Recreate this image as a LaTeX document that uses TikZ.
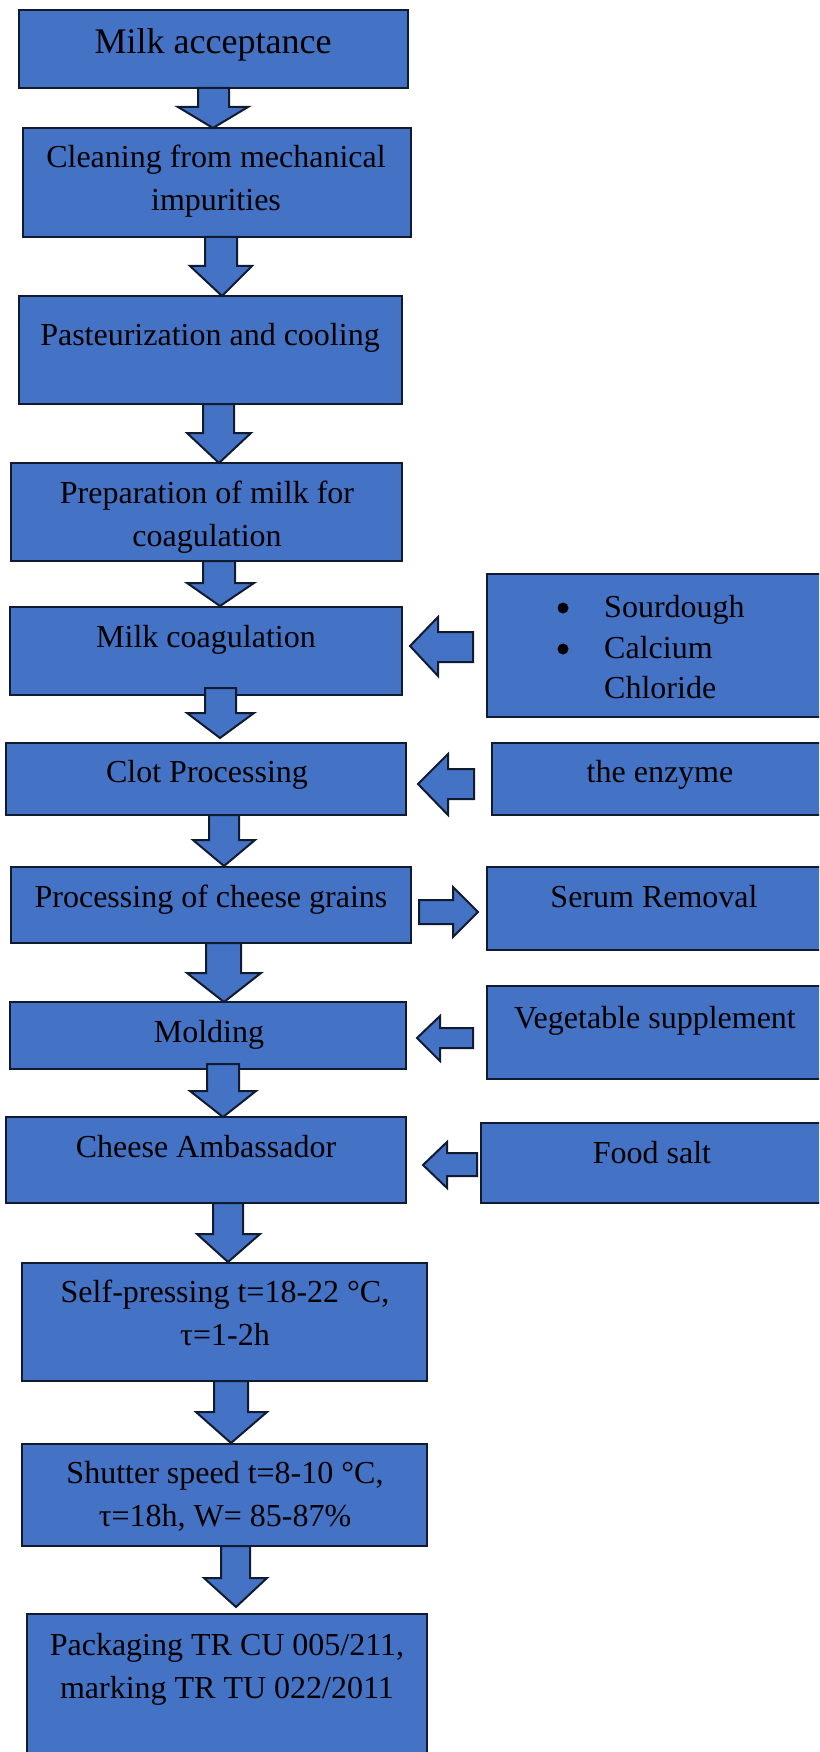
\documentclass[tikz,border=0pt]{standalone}
\usepackage{fontspec}
\setmainfont{Liberation Serif}
\definecolor{boxblue}{HTML}{4472C4}
\definecolor{edge}{HTML}{111B30}
\tikzset{
  boxshape/.style={draw=edge, fill=boxblue, line width=2pt},
  barrow/.style={draw=edge, fill=boxblue, line width=2pt, line join=miter},
  lbl/.style={inner sep=0pt, anchor=base, font=\fontsize{32}{43}\selectfont},
  mlbl/.style={lbl, text width=420pt, align=flush center},
  bulletdot/.style={circle, fill=black, inner sep=0pt, minimum size=11pt},
}
% down block arrow: xc, shaftL, shaftR, ytop, yheadtop, headL, headR, ytip
\newcommand{\dnarrow}[8]{%
  \draw[barrow] (#2,#4) -- (#3,#4) -- (#3,#5) -- (#7,#5) -- (#1,#8) -- (#6,#5) -- (#2,#5) -- cycle;}
% horizontal block arrow: xtail, yshaftTop, yshaftBot, xheadbase, yheadTop, yheadBot, xtip, ytip
\newcommand{\harrow}[8]{%
  \draw[barrow] (#1,#2) -- (#4,#2) -- (#4,#5) -- (#7,#8) -- (#4,#6) -- (#4,#3) -- (#1,#3) -- cycle;}
\begin{document}
\begin{tikzpicture}[x=1pt, y=-1pt]
\useasboundingbox (0,0) rectangle (819,1752);
\clip (0,0) rectangle (819,1752);

% main boxes
\draw[boxshape] (19,10) rectangle (408,88) coordinate (b1);
\draw[boxshape] (23,128) rectangle (411,237) coordinate (b2);
\draw[boxshape] (19,296) rectangle (402,404) coordinate (b3);
\draw[boxshape] (11,463) rectangle (402,561) coordinate (b4);
\draw[boxshape] (10,607) rectangle (402,695) coordinate (b5);
\draw[boxshape] (6,743) rectangle (406,815) coordinate (b6);
\draw[boxshape] (11,867) rectangle (411,943) coordinate (b7);
\draw[boxshape] (10,1002) rectangle (406,1069) coordinate (b8);
\draw[boxshape] (6,1117) rectangle (406,1203) coordinate (b9);
\draw[boxshape] (22,1263) rectangle (427,1381) coordinate (b10);
\draw[boxshape] (22,1444) rectangle (427,1546) coordinate (b11);
\draw[boxshape] (27,1614) rectangle (427,1765) coordinate (b12);

% side boxes
\draw[boxshape] (487,574) rectangle (835,717) coordinate (sA);
\draw[boxshape] (492,743) rectangle (835,815) coordinate (sB);
\draw[boxshape] (487,867) rectangle (835,950) coordinate (sC);
\draw[boxshape] (487,986) rectangle (835,1079) coordinate (sD);
\draw[boxshape] (481,1123) rectangle (835,1203) coordinate (sE);

% down arrows
\dnarrow{213}{198}{229}{88}{107}{178}{248}{128}
\dnarrow{222}{205}{237}{237}{266}{190}{252}{296}
\dnarrow{219}{203}{234}{404}{433}{187}{251}{463}
\dnarrow{220}{203}{235}{561}{583}{187}{254}{606}
\dnarrow{220}{205}{236}{688}{713}{187}{254}{738}
\dnarrow{224}{209}{239}{815}{840}{193}{255}{866}
\dnarrow{224}{206}{241}{943}{973}{187}{261}{1002}
\dnarrow{223}{207}{239}{1064}{1091}{190}{256}{1117}
\dnarrow{228}{213}{243}{1203}{1234}{197}{260}{1262}
\dnarrow{231}{214}{248}{1381}{1412}{196}{267}{1443}
\dnarrow{236}{221}{250}{1546}{1578}{204}{267}{1607}

% side arrows
\harrow{473}{632}{662}{438}{617}{676}{410}{646}
\harrow{474}{769}{799}{448}{754}{815}{418}{784}
\harrow{419}{900}{924}{453}{887}{937}{478}{912}
\harrow{473}{1028}{1048}{440}{1016}{1061}{417}{1038}
\harrow{477}{1153}{1176}{447}{1142}{1188}{423}{1165}

% labels
\node[lbl, font=\fontsize{36}{43}\selectfont] (t1) at (213,54) {Milk acceptance};
\node[mlbl] (t2) at (216,168) {Cleaning from mechanical\\impurities};
\node[lbl] (t3) at (210,345) {Pasteurization and cooling};
\node[mlbl] (t4) at (207,503) {Preparation of milk for\\coagulation};
\node[lbl] (t5) at (206,647) {Milk coagulation};
\node[lbl] (t6) at (207,782) {Clot Processing};
\node[lbl] (t7) at (211,907) {Processing of cheese grains};
\node[lbl] (t8) at (209,1042) {Molding};
\node[lbl] (t9) at (206,1157) {Cheese Ambassador};
\node[mlbl] (t10) at (225,1302) {Self-pressing t=18-22 °C,\\τ=1-2h};
\node[mlbl] (t11) at (225,1483) {Shutter speed t=8-10 °C,\\τ=18h, W= 85-87\%};
\node[mlbl] (t12) at (227,1655) {Packaging TR CU 005/211,\\marking TR TU 022/2011};

\node[bulletdot] (bu1) at (563,608) {};
\node[bulletdot] (bu2) at (563,649) {};
\node[lbl, anchor=base west] (sa1) at (604,617) {Sourdough};
\node[lbl, anchor=base west] (sa2) at (604,658) {Calcium};
\node[lbl, anchor=base west] (sa3) at (604,698) {Chloride};
\node[lbl] (sb) at (660,782) {the enzyme};
\node[lbl] (sc) at (654,907) {Serum Removal};
\node[lbl] (sd) at (655,1028) {Vegetable supplement};
\node[lbl] (se) at (652,1163) {Food salt};
\end{tikzpicture}
\end{document}
